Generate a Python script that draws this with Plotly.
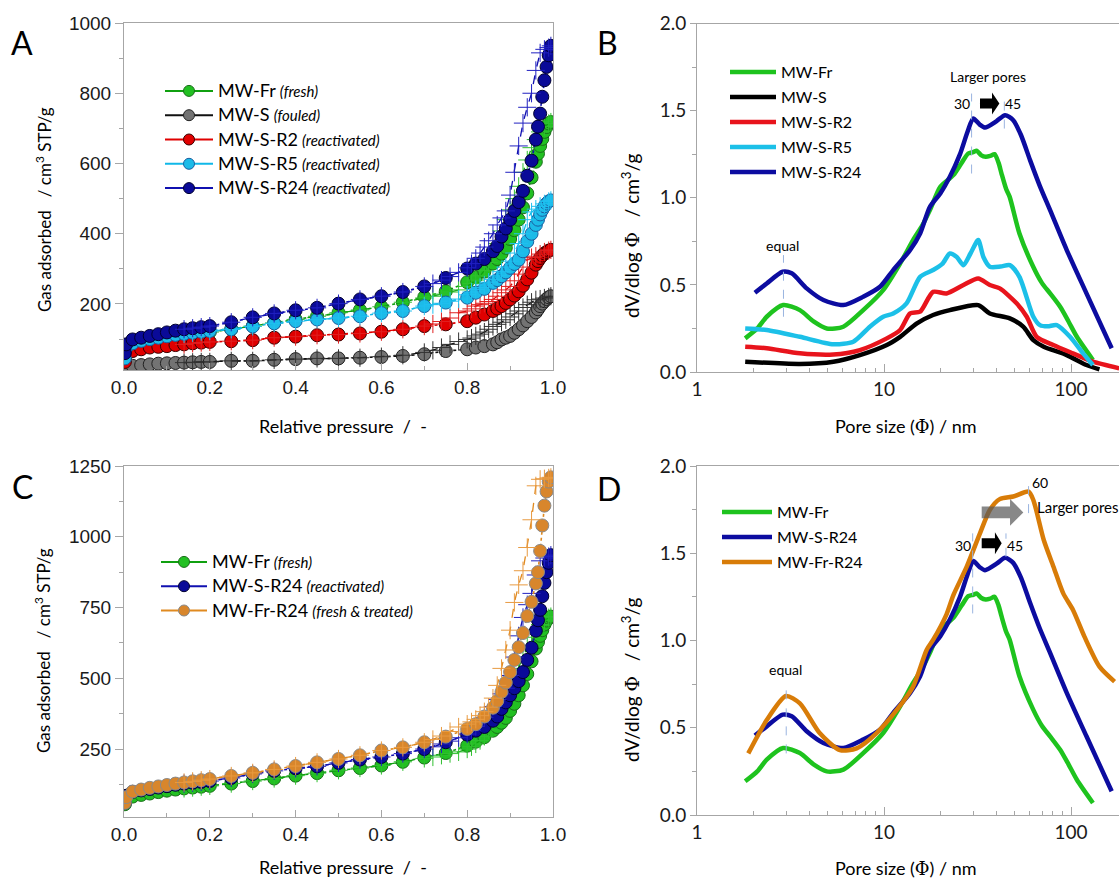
import math
import plotly.graph_objects as go

# ---------------- data: isotherms (panels A, C) ----------------
P_ADS = [0.002, 0.005, 0.02, 0.04, 0.06, 0.08, 0.10, 0.12, 0.14, 0.16, 0.18, 0.20, 0.25, 0.30,
         0.35, 0.40, 0.45, 0.50, 0.55, 0.60, 0.65, 0.70, 0.75, 0.80, 0.82, 0.84, 0.86, 0.87,
         0.88, 0.89, 0.90, 0.91, 0.92, 0.93, 0.94, 0.95, 0.96, 0.965, 0.97, 0.975, 0.98, 0.985,
         0.99, 0.995]
P_DES = [0.995, 0.99, 0.98, 0.97, 0.96, 0.95, 0.94, 0.93, 0.92, 0.91, 0.90, 0.89, 0.88, 0.87,
         0.86, 0.85, 0.84, 0.83, 0.82, 0.81, 0.80, 0.78, 0.76, 0.74, 0.72, 0.70, 0.65, 0.60,
         0.55, 0.50, 0.45, 0.40, 0.35, 0.30, 0.25, 0.20, 0.18, 0.16, 0.14]

FR_ADS = [55, 70, 82, 88, 93, 98, 103, 107, 111, 114, 117, 120, 128, 137, 146, 156, 165, 175, 183, 192,
          205, 220, 236, 262, 276, 292, 315, 328, 343, 360, 385, 410, 440, 475, 515, 560, 605, 628, 650, 670,
          690, 704, 714, 718]
S_ADS = [15, 20, 24, 26, 28, 30, 31, 32, 33, 34, 35, 35, 38, 38, 41, 43, 45, 45, 47, 49,
         52, 57, 66, 71, 76, 80, 85, 91, 99, 104, 109, 118, 128, 139, 151, 163, 176, 185, 194, 201,
         208, 214, 219, 222]
R2_ADS = [35, 55, 66, 71, 76, 78, 80, 83, 85, 88, 90, 92, 94, 97, 104, 107, 111, 113, 116, 121,
          128, 137, 142, 151, 161, 170, 180, 187, 194, 203, 213, 224, 236, 252, 270, 289, 312, 322, 331, 338,
          344, 348, 352, 354]
R5_ADS = [45, 75, 88, 95, 100, 104, 108, 112, 115, 118, 121, 123, 128, 136, 145, 151, 156, 160, 165, 174,
          180, 194, 204, 218, 232, 243, 260, 268, 279, 290, 303, 314, 326, 350, 378, 400, 425, 440, 455, 468,
          478, 486, 492, 495]
R24_ADS = [60, 85, 99, 104, 109, 114, 119, 124, 128, 131, 134, 137, 148, 162, 173, 182, 189, 201, 213, 222,
           234, 250, 274, 301, 315, 328, 350, 365, 392, 415, 440, 465, 490, 522, 565, 608, 668, 705, 742, 790,
           837, 875, 908, 935]
FRR24_ADS = [60, 80, 100, 107, 113, 118, 123, 128, 132, 136, 140, 144, 155, 166, 178, 190, 203, 215, 228, 245,
             256, 274, 294, 321, 338, 365, 396, 420, 452, 485, 522, 565, 610, 660, 720, 770, 835, 875, 950, 1040,
             1110, 1160, 1195, 1210]

FR_DES = [718, 714, 705, 690, 668, 645, 610, 575, 535, 500, 468, 440, 408, 372, 345, 318, 295, 280, 268, 258,
          250, 240, 234, 228, 222, 217, 205, 192, 183, 175, 165, 156, 146, 137, 128, 120, 117, 114, 111]
S_DES = [222, 220, 217, 214, 212, 205, 198, 190, 180, 172, 163, 155, 148, 142, 136, 128, 120, 114, 109, 103,
         99, 93, 85, 76, 68, 62, 54, 50, 47, 45, 45, 43, 41, 38, 38, 35, 35, 34, 33]
R2_DES = [354, 352, 348, 342, 336, 332, 326, 305, 285, 266, 250, 240, 232, 222, 213, 207, 202, 198, 194, 186,
          180, 175, 160, 150, 143, 137, 128, 121, 116, 113, 111, 107, 104, 97, 94, 92, 90, 88, 85]
R5_DES = [495, 492, 485, 478, 470, 462, 440, 400, 372, 345, 322, 305, 292, 280, 270, 262, 254, 247, 241, 234,
          226, 214, 208, 202, 198, 194, 180, 174, 165, 160, 156, 151, 145, 136, 128, 123, 121, 118, 115]
R24_DES = [935, 930, 925, 915, 865, 800, 760, 715, 650, 575, 510, 465, 445, 425, 400, 380, 362, 345, 330, 315,
           303, 290, 278, 268, 258, 250, 234, 222, 213, 201, 189, 182, 173, 162, 148, 137, 134, 131, 128]
FRR24_DES = [1210, 1208, 1205, 1203, 1180, 1060, 962, 880, 830, 768, 670, 600, 535, 475, 430, 398, 382, 368, 355, 346,
             338, 328, 312, 296, 284, 274, 256, 245, 228, 215, 203, 190, 178, 166, 155, 144, 140, 136, 132]

# ---------------- data: pore size distributions (panels B, D) ----------------
FR_D = [1.81, 2.1, 2.36, 2.89, 3.55, 4.2, 4.94, 6.06, 7.74, 9.9, 12.2, 14.3, 16, 17.6, 20, 23.5, 26, 28.2,
        30, 31.3, 33, 35, 37, 39, 41, 42.5, 45, 47, 53, 62.8, 70, 77.3, 87.5, 97, 107.5, 131]
FR_V = [0.193, 0.25, 0.317, 0.384, 0.355, 0.29, 0.25, 0.26, 0.355, 0.47, 0.623, 0.757, 0.84, 0.929, 1.063, 1.13,
        1.2, 1.254, 1.262, 1.27, 1.245, 1.235, 1.24, 1.25, 1.2, 1.139, 1.05, 1.005, 0.795, 0.604, 0.51, 0.451,
        0.374, 0.29, 0.202, 0.069]
S_D = [1.81, 3.55, 5.36, 7.43, 10.35, 12.2, 15, 18.3, 22.5, 31.9, 36.8, 47.1, 55.5, 62.9, 71.5, 94.9, 121, 142]
S_V = [0.059, 0.046, 0.059, 0.097, 0.155, 0.202, 0.279, 0.327, 0.355, 0.384, 0.336, 0.308, 0.26, 0.183, 0.145,
       0.097, 0.04, 0.015]
R2_D = [1.81, 2.36, 3.55, 5.36, 7.43, 10.35, 12.2, 13.8, 15.6, 18.3, 21.6, 26.6, 31.9, 36.8, 41.6, 51.2, 58,
        65.5, 80.4, 102.3, 131, 181]
R2_V = [0.145, 0.136, 0.107, 0.1, 0.126, 0.193, 0.241, 0.336, 0.346, 0.46, 0.451, 0.499, 0.537, 0.499, 0.48,
        0.394, 0.317, 0.202, 0.155, 0.107, 0.059, 0.021]
R5_D = [1.81, 2.36, 3.55, 5.36, 6.85, 8.4, 9.9, 11.2, 13.2, 15.6, 18.3, 20.5, 22.5, 24.5, 26.6, 29, 31.9, 34,
        36.8, 42, 47.1, 53, 62.9, 68.2, 75, 84, 98.8, 116, 131]
R5_V = [0.25, 0.241, 0.202, 0.159, 0.174, 0.26, 0.317, 0.336, 0.394, 0.546, 0.585, 0.62, 0.68, 0.66, 0.613,
        0.68, 0.757, 0.66, 0.604, 0.605, 0.613, 0.546, 0.317, 0.269, 0.262, 0.269, 0.202, 0.107, 0.04]
R24_D = [2.04, 2.36, 2.87, 3.21, 3.86, 4.74, 6.06, 7.74, 9.52, 11.2, 13.8, 15.6, 17.6, 20, 22.5, 25.5, 28, 30,
         32.5, 34.7, 40, 44.4, 49.1, 54, 60.4, 68, 77.3, 94.9, 121, 165]
R24_V = [0.455, 0.508, 0.575, 0.566, 0.48, 0.413, 0.384, 0.432, 0.489, 0.585, 0.70, 0.795, 0.948, 1.025, 1.12,
         1.25, 1.38, 1.455, 1.42, 1.403, 1.44, 1.474, 1.445, 1.36, 1.216, 1.07, 0.929, 0.70, 0.451, 0.136]
FRR24_D = [1.88, 2.36, 2.99, 3.55, 4.54, 5.81, 7.14, 9.1, 11.7, 14.3, 16.9, 18.3, 21.6, 23.5, 27.7, 32.6, 36.8,
           41.6, 49.1, 59.3, 62.9, 71.5, 80.6, 90.9, 102.5, 118, 142, 171]
FRR24_V = [0.353, 0.544, 0.682, 0.64, 0.468, 0.372, 0.382, 0.468, 0.602, 0.735, 0.946, 1.003, 1.15, 1.26, 1.423,
           1.614, 1.748, 1.81, 1.825, 1.853, 1.805, 1.576, 1.423, 1.27, 1.175, 1.022, 0.85, 0.764]

# ---------------- helpers ----------------
W, H = 1119, 879
def px(x): return x / W
def py(y): return 1 - y / H

FONT = "Lato"
fig = go.Figure()
fig.update_layout(template="none")

ISO_STYLE = {
    "fr":    dict(fill="#22c022", edge="#1a6e1a", line="#10a010", plus="#30c030"),
    "s":     dict(fill="#737373", edge="#222222", line="#111111", plus="#333333"),
    "r2":    dict(fill="#e00000", edge="#3a0000", line="#e00000", plus="#e02020"),
    "r5":    dict(fill="#1cbbe8", edge="#1a5fa0", line="#10b8e8", plus="#20c0f0"),
    "r24":   dict(fill="#0a0a98", edge="#000030", line="#1010b0", plus="#2020c0"),
    "frr24": dict(fill="#d8862c", edge="#8a8a8a", line="#e08a20", plus="#e89a40"),
}
PSD_COL = dict(fr="#1ec31e", s="#000000", r2="#e8141c", r5="#1cc0e8", r24="#0c0ca0", frr24="#d87c08")


def iso(ads, des, key, xa, ya):
    st = ISO_STYLE[key]
    fig.add_trace(go.Scatter(x=P_ADS, y=ads, mode="lines+markers", xaxis=xa, yaxis=ya,
                             line=dict(color=st["line"], width=1.6, dash="dot"),
                             marker=dict(size=13, color=st["fill"], line=dict(color=st["edge"], width=1)),
                             showlegend=False, hoverinfo="skip"))
    fig.add_trace(go.Scatter(x=P_DES, y=des, mode="lines+markers", xaxis=xa, yaxis=ya,
                             line=dict(color=st["line"], width=1.3, dash="dash"),
                             marker=dict(symbol="cross-thin", size=13, line=dict(color=st["plus"], width=1)),
                             showlegend=False, hoverinfo="skip"))


def iso_leg(key, name, legend, xa, ya):
    st = ISO_STYLE[key]
    fig.add_trace(go.Scatter(x=[None], y=[None], mode="lines+markers", name=name, legend=legend,
                             legendgroup=legend + key, xaxis=xa, yaxis=ya,
                             line=dict(color=st["line"], width=2),
                             marker=dict(size=11, color=st["fill"], line=dict(color=st["edge"], width=1))))


def psd(d, v, key, name, xa, ya, legend):
    fig.add_trace(go.Scatter(x=d, y=v, mode="lines", name=name, xaxis=xa, yaxis=ya, legend=legend,
                             legendgroup=legend + key,
                             line=dict(color=PSD_COL[key], width=4.5, shape="spline", smoothing=0.7),
                             hoverinfo="skip"))


def lab(main, note):
    return ('<span style="font-size:18px">%s</span> <span style="font-size:15px"><i>%s</i></span>'
            % (main, note))

# ---------------- panel A ----------------
iso(FR_ADS, FR_DES, "fr", "x", "y")
iso(S_ADS, S_DES, "s", "x", "y")
iso(R2_ADS, R2_DES, "r2", "x", "y")
iso(R5_ADS, R5_DES, "r5", "x", "y")
iso(R24_ADS, R24_DES, "r24", "x", "y")
iso_leg("fr", lab("MW-Fr", "(fresh)"), "legend", "x", "y")
iso_leg("s", lab("MW-S", "(fouled)"), "legend", "x", "y")
iso_leg("r2", lab("MW-S-R2", "(reactivated)"), "legend", "x", "y")
iso_leg("r5", lab("MW-S-R5", "(reactivated)"), "legend", "x", "y")
iso_leg("r24", lab("MW-S-R24", "(reactivated)"), "legend", "x", "y")

# ---------------- panel C ----------------
iso(FR_ADS, FR_DES, "fr", "x3", "y3")
iso(R24_ADS, R24_DES, "r24", "x3", "y3")
iso(FRR24_ADS, FRR24_DES, "frr24", "x3", "y3")
iso_leg("fr", lab("MW-Fr", "(fresh)"), "legend3", "x3", "y3")
iso_leg("r24", lab("MW-S-R24", "(reactivated)"), "legend3", "x3", "y3")
iso_leg("frr24", lab("MW-Fr-R24", "(fresh &amp; treated)"), "legend3", "x3", "y3")

# ---------------- panel B ----------------
psd(FR_D, FR_V, "fr", "MW-Fr", "x2", "y2", "legend2")
psd(S_D, S_V, "s", "MW-S", "x2", "y2", "legend2")
psd(R2_D, R2_V, "r2", "MW-S-R2", "x2", "y2", "legend2")
psd(R5_D, R5_V, "r5", "MW-S-R5", "x2", "y2", "legend2")
psd(R24_D, R24_V, "r24", "MW-S-R24", "x2", "y2", "legend2")

# ---------------- panel D ----------------
psd(FR_D, FR_V, "fr", "MW-Fr", "x4", "y4", "legend4")
psd(R24_D, R24_V, "r24", "MW-S-R24", "x4", "y4", "legend4")
psd(FRR24_D, FRR24_V, "frr24", "MW-Fr-R24", "x4", "y4", "legend4")

# ---------------- axes ----------------
AX = "#a6a6a6"
TICKF_A = dict(family="Liberation Sans, Arial", size=19, color="#1a1a1a")
TICKF_B = dict(family=FONT, size=19, color="#1a1a1a")

def iso_axes(xname, yname, ydom, yrange, yticks, yminor):
    fig.layout[xname] = dict(domain=[px(124), px(553)], range=[0, 1], anchor=yname.replace("axis", ""),
                              tickvals=[0, 0.2, 0.4, 0.6, 0.8, 1.0],
                              ticktext=["0.0", "0.2", "0.4", "0.6", "0.8", "1.0"],
                              ticks="inside", ticklen=7, tickcolor=AX, tickfont=TICKF_A,
                              minor=dict(tickvals=[0.1, 0.3, 0.5, 0.7, 0.9], ticks="inside", ticklen=4, tickcolor=AX),
                              showline=True, linecolor=AX, linewidth=1, mirror=True, automargin=False,
                              showgrid=False, zeroline=False)
    fig.layout[yname] = dict(domain=ydom, range=yrange, anchor=xname.replace("axis", ""),
                              tickvals=yticks, ticks="outside", ticklen=8, tickcolor=AX, tickfont=TICKF_A,
                              minor=dict(tickvals=yminor, ticks="outside", ticklen=4, tickcolor=AX),
                              showline=True, linecolor=AX, linewidth=1, mirror=True, automargin=False,
                              showgrid=False, zeroline=False)

iso_axes("xaxis", "yaxis", [py(370), py(23)], [12, 1000], [200, 400, 600, 800, 1000], [100, 300, 500, 700, 900])
iso_axes("xaxis3", "yaxis3", [py(817), py(466)], [10, 1250], [250, 500, 750, 1000, 1250],
         [125, 375, 625, 875, 1125])

LOG_MINOR = [2, 3, 4, 5, 6, 7, 8, 9, 20, 30, 40, 50, 60, 70, 80, 90, 200]

def psd_axes(xname, yname, ydom):
    fig.layout[xname] = dict(domain=[px(697), 1.0], type="log", range=[0, (W - 697) / 187.0],
                              anchor=yname.replace("axis", ""),
                              tickvals=[1, 10, 100], ticktext=["1", "10", "100"],
                              ticks="inside", ticklen=8, tickcolor=AX, tickfont=TICKF_B,
                              minor=dict(tickvals=LOG_MINOR, ticks="inside", ticklen=4, tickcolor=AX),
                              showline=True, linecolor=AX, linewidth=1, mirror=True, automargin=False,
                              showgrid=False, zeroline=False)
    fig.layout[yname] = dict(domain=ydom, range=[0, 2], anchor=xname.replace("axis", ""),
                              tickvals=[0, 0.5, 1, 1.5, 2], ticktext=["0.0", "0.5", "1.0", "1.5", "2.0"],
                              ticks="outside", ticklen=6, tickcolor=AX, tickfont=TICKF_B,
                              minor=dict(tickvals=[0.25, 0.75, 1.25, 1.75], ticks="outside", ticklen=4,
                                         tickcolor=AX),
                              showline=True, linecolor=AX, linewidth=1, mirror=False, automargin=False,
                              showgrid=False, zeroline=False)

psd_axes("xaxis2", "yaxis2", [py(372), py(23.5)])
psd_axes("xaxis4", "yaxis4", [py(815), py(466)])

# ---------------- legends ----------------
def leg(x, y, w, gap):
    return dict(x=px(x), y=py(y), xanchor="left", yanchor="top", bgcolor="rgba(0,0,0,0)",
                borderwidth=0, itemwidth=w, tracegroupgap=gap,
                font=dict(family=FONT, size=16, color="#000"))

fig.update_layout(
    legend=leg(160, 74, 48, 0.5),
    legend2=leg(725, 55, 46, 1.2),
    legend3=leg(156, 545, 46, 0.5),
    legend4=leg(717, 495, 50, 1.2),
)

# ---------------- texts ----------------
ann = []
def txt(x, y, s, size, ref=("paper", "paper"), angle=0, xanchor="center", family=FONT):
    ann.append(dict(x=x, y=y, xref=ref[0], yref=ref[1], text=s, showarrow=False, textangle=angle,
                    xanchor=xanchor, yanchor="middle", font=dict(family=family, size=size, color="#000")))

PHI = '<span style="font-family:DejaVu Serif">Φ</span>'
# panel letters
txt(px(22), py(42), "A", 32)
txt(px(607), py(43), "B", 32)
txt(px(22), py(487), "C", 32)
txt(px(609), py(488), "D", 32)
# axis titles
YT_ISO = "Gas adsorbed&nbsp;&nbsp;&nbsp;/ cm<sup>3</sup> STP/g"
YT_PSD = "dV/dlog " + PHI + "&nbsp;&nbsp;&nbsp;/ cm<sup>3</sup>/g"
XT_ISO = "Relative pressure&nbsp; /&nbsp; -"
XT_PSD = "Pore size (" + PHI + ") / nm"
txt(px(43), py(210), YT_ISO, 17, angle=-90)
txt(px(42), py(651), YT_ISO, 17, angle=-90)
txt(px(630), py(236), YT_PSD, 19, angle=-90)
txt(px(630), py(680), YT_PSD, 19, angle=-90)
txt(px(343), py(426), XT_ISO, 18)
txt(px(343), py(867), XT_ISO, 18)
txt(px(906), py(426), XT_PSD, 18)
txt(px(906), py(868), XT_PSD, 18)

L = math.log10
# panel B annotations
txt(L(2.88), 0.728, "equal", 14, ref=("x2", "y2"))
txt(L(26.0), 1.541, "30", 14, ref=("x2", "y2"))
txt(L(49.1), 1.541, "45", 14, ref=("x2", "y2"))
txt(L(36.2), 1.693, "Larger pores", 14, ref=("x2", "y2"))
# panel D annotations
txt(L(2.96), 0.831, "equal", 14, ref=("x4", "y4"))
txt(L(26.5), 1.547, "30", 14, ref=("x4", "y4"))
txt(L(50.2), 1.547, "45", 14, ref=("x4", "y4"))
txt(L(68.3), 1.904, "60", 14, ref=("x4", "y4"))
txt(L(64.2), 1.767, "Larger pores", 15, ref=("x4", "y4"), xanchor="left")
fig.update_layout(annotations=ann)

# ---------------- shapes (guide lines, arrows) ----------------
shapes = []
def vline(x, y0, y1, xr, yr):
    shapes.append(dict(type="line", x0=x, x1=x, y0=y0, y1=y1, xref=xr, yref=yr,
                       line=dict(color="#9ab4e0", width=1, dash="dash")))

def block_arrow(x0, xb, xt, yc, hb, hh, xr, yr, color):
    path = ("M{a},{b0} L{c},{b0} L{c},{h0} L{t},{yc} L{c},{h1} L{c},{b1} L{a},{b1} Z"
            .format(a=x0, c=xb, t=xt, yc=yc, b0=yc - hb, b1=yc + hb, h0=yc - hh, h1=yc + hh))
    shapes.append(dict(type="path", path=path, xref=xr, yref=yr, fillcolor=color, line=dict(width=0)))

vline(2.9, 0.317, 0.671, "x2", "y2")
vline(29.4, 1.139, 1.598, "x2", "y2")
vline(44.0, 1.397, 1.598, "x2", "y2")
block_arrow(32.6, 37.8, 41.4, 1.541, 0.029, 0.063, "x2", "y2", "#000000")

vline(3.0, 0.353, 0.716, "x4", "y4")
vline(29.8, 1.155, 1.614, "x4", "y4")
vline(44.9, 1.48, 1.614, "x4", "y4")
vline(59.3, 1.73, 1.93, "x4", "y4")
block_arrow(33.3, 39.2, 42.6, 1.557, 0.029, 0.063, "x4", "y4", "#000000")
block_arrow(33.3, 47.2, 55.6, 1.734, 0.034, 0.077, "x4", "y4", "rgba(90,90,90,0.72)")
fig.update_layout(shapes=shapes)

fig.update_layout(width=W, height=H, margin=dict(l=0, r=0, t=0, b=0, autoexpand=False),
                  paper_bgcolor="white", plot_bgcolor="white", font=dict(family=FONT, color="#000"))

fig.write_html("out.html", config={"displayModeBar": False, "staticPlot": True},
               post_script="document.body.style.margin='0';document.body.style.overflow='hidden';")
